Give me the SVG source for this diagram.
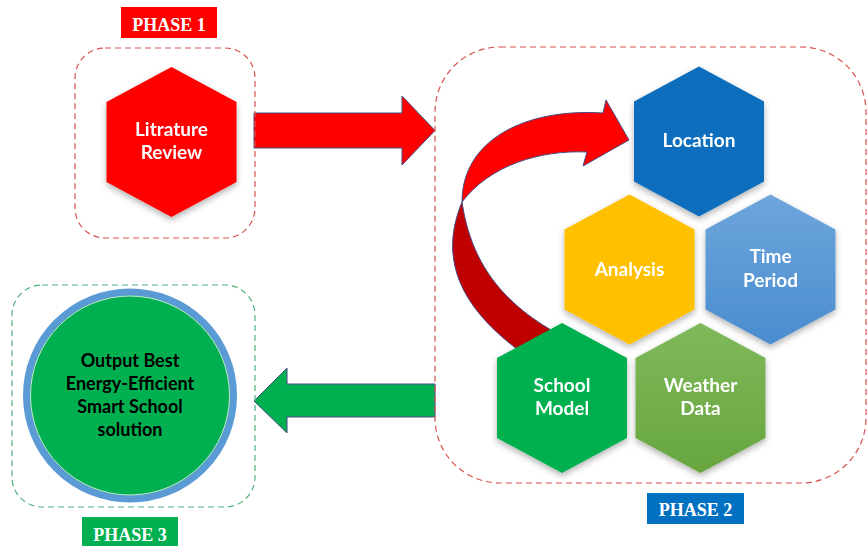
<svg xmlns="http://www.w3.org/2000/svg" width="868" height="546" viewBox="0 0 868 546">
  <defs>
    <style>
      .hexlbl { font-family: Lato, "Open Sans", "Liberation Sans", sans-serif; font-weight: 700; font-size: 19px; fill: #ffffff; text-anchor: middle; }
      .outlbl { font-family: Lato, "Open Sans", "Liberation Sans", sans-serif; font-weight: 700; font-size: 18px; fill: #000000; text-anchor: middle; }
      .phase { font-family: "Liberation Serif", serif; font-weight: 700; font-size: 18px; fill: #ffffff; text-anchor: middle; }
      .box-red { fill: none; stroke: #d9534f; stroke-width: 1.2; stroke-dasharray: 6 4; }
      .box-green { fill: none; stroke: #4fb07a; stroke-width: 1.2; stroke-dasharray: 6 4; }
      .arrow { stroke: #4a4a86; stroke-width: 1; stroke-linejoin: miter; }
    </style>
    <polygon id="hex" points="0,-75 65,-40 65,40 0,75 -65,40 -65,-40"/>
    <filter id="shadow" x="-20%" y="-20%" width="140%" height="140%">
      <feDropShadow dx="0" dy="3" stdDeviation="3" flood-color="#000" flood-opacity="0.3"/>
    </filter>
    <linearGradient id="gTime" x1="0" y1="0" x2="0" y2="1">
      <stop offset="0" stop-color="#6ea6dc"/>
      <stop offset="1" stop-color="#4a8ccf"/>
    </linearGradient>
    <linearGradient id="gWeather" x1="0" y1="0" x2="0" y2="1">
      <stop offset="0" stop-color="#7fb95b"/>
      <stop offset="1" stop-color="#67a63f"/>
    </linearGradient>
  </defs>

  <rect width="868" height="546" fill="#ffffff"/>

  <!-- connectors -->
  <g id="connectors">
    <!-- phase 1 to phase 2 -->
    <polygon class="arrow" fill="#ff0000" points="254,113 402,113 402,96 435,130.5 402,165 402,148 254,148"/>
    <!-- phase 2 to phase 3 -->
    <polygon class="arrow" fill="#00b050" stroke="none" points="435,384 287,384 287,368 254,401 287,433 287,417 435,417"/>
    <!-- curved loop back to Location: rear face, tucked under School Model -->
    <path class="arrow" fill="#c00000" d="M462,202 C440,255 455,305 525,355 L560,335 C495,300 470,255 462,202 Z"/>
    <!-- curved loop: front face with head -->
    <path class="arrow" fill="#ff0000" d="M462,202 C462,140 525,108 603,113 L606,100 L629,140 L583,166 L587,152 C540,150 490,165 462,202 Z"/>
  </g>

  <!-- phase 1 -->
  <g id="phase1">
    <rect class="box-red" x="75" y="48" width="180" height="190" rx="30"/>
    <rect x="121" y="7" width="96" height="31" fill="#ff0000"/>
    <text class="phase" x="169" y="31">PHASE 1</text>
  </g>
  <g id="litrature-review" filter="url(#shadow)">
    <use href="#hex" x="171.5" y="142" fill="#ff0000"/>
    <text class="hexlbl" x="171.5" y="136">Litrature</text>
    <text class="hexlbl" x="171.5" y="159">Review</text>
  </g>

  <!-- phase 2 -->
  <g id="phase2">
    <rect class="box-red" x="435" y="47" width="431" height="436" rx="65"/>
    <rect x="647" y="493" width="97" height="31" fill="#0070c0"/>
    <text class="phase" x="695.5" y="516">PHASE 2</text>
  </g>
  <g id="location" filter="url(#shadow)">
    <use href="#hex" x="699" y="141.5" fill="#0a6ebd"/>
    <text class="hexlbl" x="699" y="147">Location</text>
  </g>
  <g id="analysis" filter="url(#shadow)">
    <use href="#hex" x="629.5" y="269.5" fill="#ffc000"/>
    <text class="hexlbl" x="629.5" y="276">Analysis</text>
  </g>
  <g id="time-period" filter="url(#shadow)">
    <use href="#hex" x="770.5" y="269.5" fill="url(#gTime)"/>
    <text class="hexlbl" x="770.5" y="263">Time</text>
    <text class="hexlbl" x="770.5" y="287">Period</text>
  </g>
  <g id="school-model" filter="url(#shadow)">
    <use href="#hex" x="562" y="398" fill="#00b050"/>
    <text class="hexlbl" x="562" y="392">School</text>
    <text class="hexlbl" x="562" y="415">Model</text>
  </g>
  <g id="weather-data" filter="url(#shadow)">
    <use href="#hex" x="700.5" y="398" fill="url(#gWeather)"/>
    <text class="hexlbl" x="700.5" y="392">Weather</text>
    <text class="hexlbl" x="700.5" y="415">Data</text>
  </g>

  <!-- phase 3 -->
  <g id="phase3">
    <rect class="box-green" x="12" y="285" width="243" height="222" rx="30"/>
    <rect x="82" y="517" width="96" height="31" fill="#00b050"/>
    <text class="phase" x="130" y="541">PHASE 3</text>
  </g>
  <g id="output">
    <circle cx="130" cy="395.5" r="103.5" fill="#00b050" stroke="#5b9bd5" stroke-width="7"/>
    <circle cx="130" cy="395.5" r="99.5" fill="none" stroke="#cfe8d8" stroke-width="1"/>
    <text class="outlbl" x="130" y="367">Output Best</text>
    <text class="outlbl" x="130" y="390">Energy-Efficient</text>
    <text class="outlbl" x="130" y="413">Smart School</text>
    <text class="outlbl" x="130" y="436">solution</text>
  </g>
</svg>
